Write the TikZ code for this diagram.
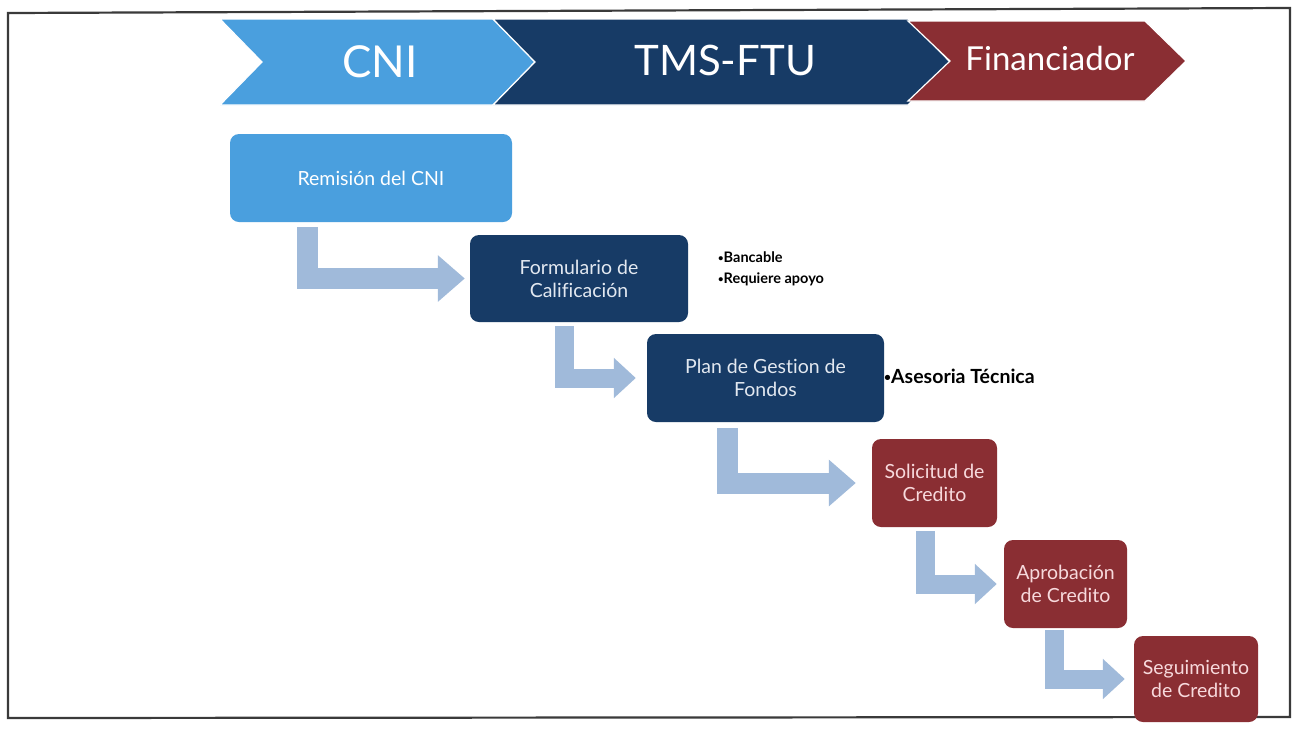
\documentclass[tikz,border=0pt]{standalone}
\usepackage{fontspec}
\setmainfont{Lato}[Ligatures=NoCommon]
\usetikzlibrary{arrows.meta}
\definecolor{cnib}{HTML}{4A9FDE}
\definecolor{navy}{HTML}{173B66}
\definecolor{wine}{HTML}{8A2E33}
\definecolor{arrowc}{HTML}{A0BADA}
\definecolor{navytxt}{HTML}{E2E8F0}
\definecolor{winetxt}{HTML}{F7D9DC}
\definecolor{framec}{HTML}{3A3A3A}
\newcommand{\smallbul}{{\fontsize{9.5}{9}\selectfont\raisebox{0.2ex}{•}}}
\tikzset{
  box/.style={rounded corners=9pt, minimum height=88pt, align=center, font=\fontsize{19.5}{23}\selectfont, inner sep=2pt},
  bluebox/.style={box, fill=cnib, text=white},
  navybox/.style={box, fill=navy, text=navytxt},
  winebox/.style={box, fill=wine, text=winetxt},
  bigflow/.style={draw=arrowc, line width=21pt, line join=miter, -{Triangle[width=45pt,length=27pt]}},
  smallflow/.style={draw=arrowc, line width=19pt, line join=miter, -{Triangle[width=39pt,length=22pt]}},
  chev/.style={draw=white, line width=1.2pt},
  chevtxt/.style={text=white, inner sep=0pt},
  note/.style={anchor=west, font=\bfseries, inner sep=0pt, align=left}
}
\begin{document}
\begin{tikzpicture}[x=1pt,y=-1pt]
\useasboundingbox (0,0) rectangle (1294,732);
\fill[white] (0,0) rectangle (1294,732);
% frame
\draw[framec, line width=2.2pt] (8,13) -- (1290,8) -- (1290,717) -- (8,718) -- cycle;
% chevrons
\fill[cnib, chev] (220,19) -- (493,19) -- (535,62) -- (493,105) -- (220,105) -- (262,62) -- cycle;
\fill[navy, chev] (493,19) -- (908,19) -- (950,62) -- (908,105) -- (493,105) -- (535,62) -- cycle;
\fill[wine, chev] (908,21) -- (1145,21) -- (1186,61) -- (1145,101) -- (908,101) -- (950,61) -- cycle;
\node[chevtxt, font=\fontsize{44}{44}\selectfont] (hcni) at (380,62) {CNI};
\node[chevtxt, font=\fontsize{42}{42}\selectfont] (htms) at (725,60) {TMS-FTU};
\node[chevtxt, font=\fontsize{33}{33}\selectfont] (hfin) at (1050,58) {Financiador};
% boxes
\node[bluebox, minimum width=282pt] (b1) at (371,178) {Remisión del CNI};
\node[navybox, minimum width=218pt, minimum height=87pt] (b2) at (579,278.5) {Formulario de\\Calificación};
\node[navybox, minimum width=237pt] (b3) at (765.5,378) {Plan de Gestion de\\Fondos};
\node[winebox, minimum width=125pt] (b4) at (934.5,483) {Solicitud de\\Credito};
\node[winebox, minimum width=123pt] (b5) at (1065.5,584) {Aprobación\\de Credito};
\node[winebox, minimum width=124pt, minimum height=86pt] (b6) at (1196,679) {Seguimiento\\de Credito};
% notes
\node[note, font=\bfseries\fontsize{14.5}{21}\selectfont] (n1) at (718,269) {\smallbul Bancable\\\smallbul Requiere apoyo};
\node[note, font=\bfseries\fontsize{19.5}{22}\selectfont] (n2) at (884,376) {{\fontsize{12}{10}\selectfont\raisebox{0.3ex}{•}}Asesoria Técnica};
% bent arrows
\draw[bigflow] ([xshift=-63.5pt,yshift=-5pt]b1.south) |- ([xshift=-5pt]b2.west);
\draw[smallflow] ([xshift=-15pt,yshift=-4pt]b2.south) |- ([xshift=-11pt]b3.west);
\draw[bigflow] ([xshift=-38pt,yshift=-6pt]b3.south) |- ([xshift=-16pt]b4.west);
\draw[smallflow] ([xshift=-9.5pt,yshift=-4pt]b4.south) |- ([xshift=-7pt]b5.west);
\draw[smallflow] ([xshift=-11pt,yshift=-2pt]b5.south) |- ([xshift=-9pt]b6.west);
\end{tikzpicture}
\end{document}
